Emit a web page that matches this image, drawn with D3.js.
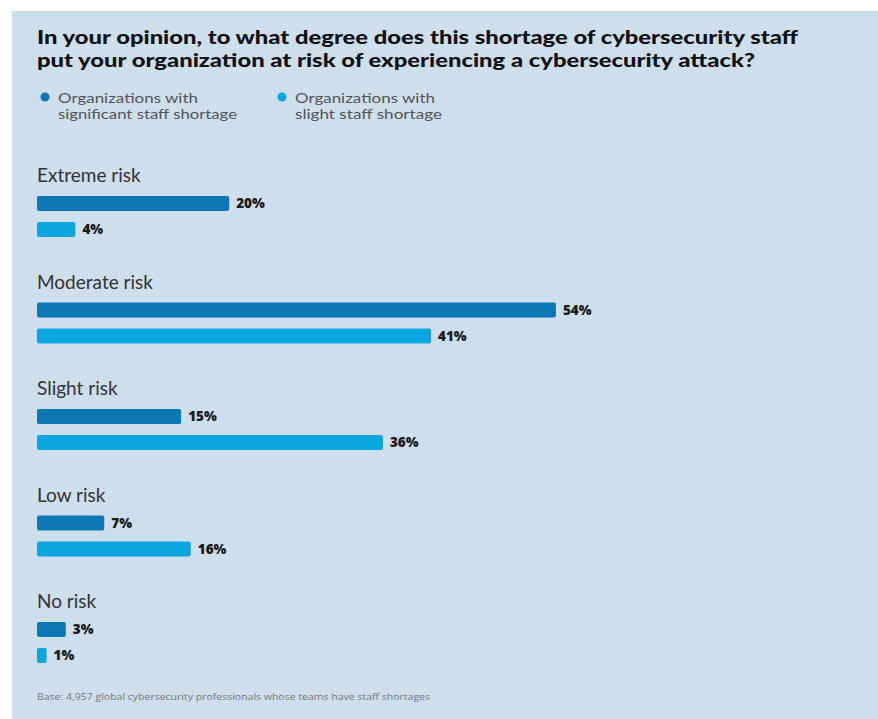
<!DOCTYPE html>
<html>
<head>
<meta charset="utf-8">
<script src="https://cdn.jsdelivr.net/npm/d3@7"></script>
<style>
  html, body { margin: 0; padding: 0; background: #ffffff; }
  svg { display: block; }
</style>
</head>
<body>
<div id="chart"></div>
<script>
// Survey answers: perceived risk of attack caused by cybersecurity staff shortage
const categories = ["Extreme risk", "Moderate risk", "Slight risk", "Low risk", "No risk"];
const seriesNames = [
  ["Organizations with", "significant staff shortage"],
  ["Organizations with", "slight staff shortage"]
];
const significantShortage = [20, 54, 15, 7, 3];
const slightShortage = [4, 41, 36, 16, 1];
const seriesColors = ["#0b77b3", "#0ba6df"];
const titleLines = [
  "In your opinion, to what degree does this shortage of cybersecurity staff",
  "put your organization at risk of experiencing a cybersecurity attack?"
];
const footnote = "Base: 4,957 global cybersecurity professionals whose teams have staff shortages";

const W = 878, H = 719;
const FONT = "'Open Sans', Lato, sans-serif";
const svg = d3.select("#chart").append("svg")
  .attr("width", W).attr("height", H);

// Stretch a text element horizontally to a given width
function fitWidth(sel, width) {
  sel.attr("textLength", width).attr("lengthAdjust", "spacingAndGlyphs");
}

// Light blue panel
svg.append("rect")
  .attr("x", 12).attr("y", 11)
  .attr("width", W - 12).attr("height", H - 11)
  .attr("fill", "#cddeed");

// Title
const titleWidths = [761, 718];
titleLines.forEach((line, i) => {
  svg.append("text")
    .attr("x", 37).attr("y", 44 + i * 23)
    .attr("font-family", "Lato, 'Open Sans', sans-serif")
    .attr("font-weight", 900)
    .attr("font-size", 19)
    .attr("fill", "#111")
    .text(line)
    .call(fitWidth, titleWidths[i]);
});

// Legend
const legendWidths = [[140, 179], [140, 147]];
seriesNames.forEach((lines, i) => {
  const lx = 45 + i * 237;
  svg.append("circle")
    .attr("cx", lx).attr("cy", 97).attr("r", 4.5)
    .attr("fill", seriesColors[i]);
  lines.forEach((ln, j) => {
    svg.append("text")
      .attr("x", lx + 13).attr("y", 103 + j * 16)
      .attr("font-family", "Lato, 'Open Sans', sans-serif")
      .attr("font-size", 13)
      .attr("fill", "#555")
      .text(ln)
      .call(fitWidth, legendWidths[i][j]);
  });
});

// Scales
const x = d3.scaleLinear().domain([0, 100]).range([37, 37 + 961]);
const y = d3.scaleBand().domain(categories)
  .range([196, 196 + 106.5 * categories.length]).paddingInner(0).paddingOuter(0);
const ySeries = d3.scaleBand().domain([0, 1]).range([0, 41]).paddingInner(0.423).paddingOuter(0);

const rows = categories.map((c, i) => ({
  category: c,
  values: [significantShortage[i], slightShortage[i]]
}));

const group = svg.append("g").selectAll("g.row")
  .data(rows).join("g")
  .attr("class", "row")
  .attr("transform", d => `translate(0,${y(d.category)})`);

// Category labels
group.append("text")
  .attr("x", 37).attr("y", -14)
  .attr("font-family", "Lato, 'Open Sans', sans-serif")
  .attr("font-size", 19)
  .attr("fill", "#333")
  .text(d => d.category);

const bars = group.selectAll("g.bar")
  .data(d => d.values.map((v, k) => ({ v, k })))
  .join("g").attr("class", "bar");

bars.append("rect")
  .attr("x", x(0))
  .attr("y", d => ySeries(d.k))
  .attr("width", d => x(d.v) - x(0))
  .attr("height", ySeries.bandwidth())
  .attr("rx", 2)
  .attr("fill", d => seriesColors[d.k]);

bars.append("text")
  .attr("x", d => x(d.v) + 7)
  .attr("y", d => ySeries(d.k) + ySeries.bandwidth() / 2)
  .attr("dy", "0.36em")
  .attr("font-family", FONT)
  .attr("font-weight", 800)
  .attr("font-size", 13.5)
  .attr("fill", "#1a1a1a")
  .text(d => d.v + "%");

// Footnote
svg.append("text")
  .attr("x", 37).attr("y", 700)
  .attr("font-family", FONT)
  .attr("font-size", 9.5)
  .attr("fill", "#777")
  .text(footnote)
  .call(fitWidth, 393);
</script>
</body>
</html>
